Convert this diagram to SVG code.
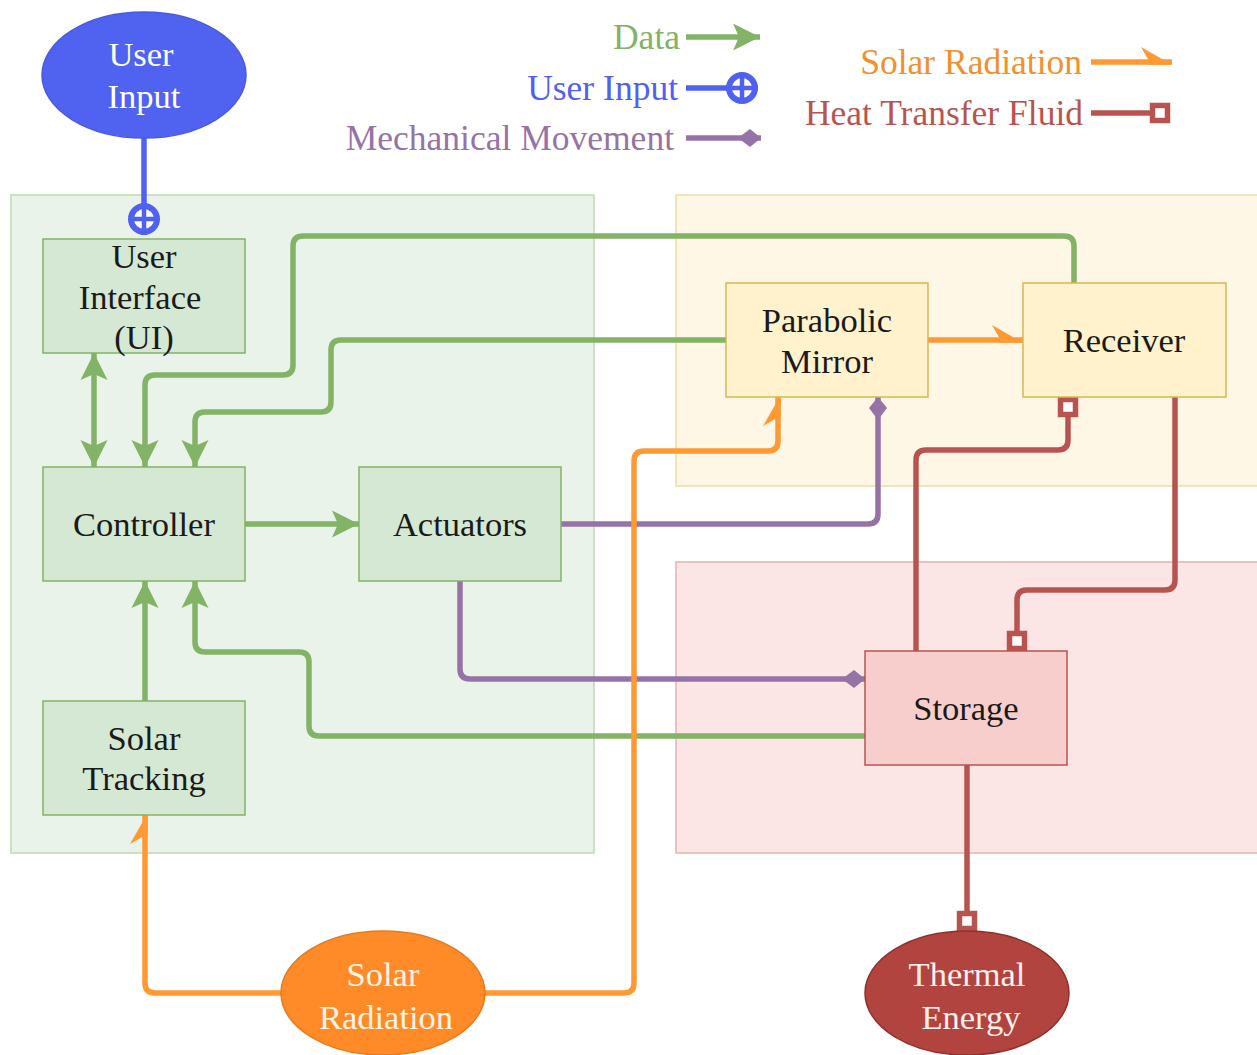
<svg xmlns="http://www.w3.org/2000/svg" width="1257" height="1055" viewBox="0 0 1257 1055">
  <defs>
    <style>
      text { font-family: "Liberation Serif", "Times New Roman", serif; font-size: 34.5px; text-anchor: middle; fill: #1a1a1a; }
      .lg { font-size: 35.5px; text-anchor: end; }
      .box-g { fill: #d5e8d4; stroke: #82b366; stroke-width: 1.5; }
      .box-y { fill: #fff2cc; stroke: #d6b656; stroke-width: 1.5; }
      .box-r { fill: #f8cecc; stroke: #b85450; stroke-width: 1.5; }
      .wire { fill: none; stroke-width: 5.5; stroke-linejoin: round; }
      .data { stroke: #82b366; marker-end: url(#arrowData); }
      .user { stroke: #5060f0; marker-end: url(#circlePlus); }
      .mech { stroke: #9673a6; marker-end: url(#diamond); }
      .sun { stroke: #ff9933; marker-end: url(#halfArrow); }
      .htf { stroke: #b85450; }
    </style>
    <marker id="arrowData" markerUnits="userSpaceOnUse" viewBox="-28 -14 28 28" refX="0" refY="0" markerWidth="28" markerHeight="28" orient="auto-start-reverse" overflow="visible">
      <path d="M0,0 L-27,-13.5 L-21,0 L-27,13.5 Z" fill="#82b366"/>
    </marker>
    <marker id="circlePlus" markerUnits="userSpaceOnUse" viewBox="-34 -18 36 36" refX="0" refY="0" markerWidth="36" markerHeight="36" orient="auto" overflow="visible">
      <circle cx="-16" cy="0" r="13" fill="#ffffff" stroke="#5060f0" stroke-width="6"/>
      <path d="M-29,0 H-3 M-16,-13 V13" stroke="#5060f0" stroke-width="4.5"/>
    </marker>
    <marker id="diamond" markerUnits="userSpaceOnUse" viewBox="-24 -10 26 20" refX="0" refY="0" markerWidth="26" markerHeight="20" orient="auto" overflow="visible">
      <path d="M0,0 L-11,-9 L-23,0 L-11,9 Z" fill="#9673a6"/>
    </marker>
    <marker id="halfArrow" markerUnits="userSpaceOnUse" viewBox="-34 -18 36 24" refX="0" refY="0" markerWidth="36" markerHeight="24" orient="auto" overflow="visible">
      <path d="M0,2.75 L-31,-15 L-24,-2.75 L-24,2.75 Z" fill="#ff9933"/>
    </marker>
    <marker id="square" markerUnits="userSpaceOnUse" viewBox="-22 -12 24 24" refX="0" refY="0" markerWidth="24" markerHeight="24" orient="auto-start-reverse" overflow="visible">
      <rect x="-17.5" y="-7.5" width="15" height="15" fill="#ffffff" stroke="#b85450" stroke-width="5.5"/>
    </marker>
  </defs>

  <!-- background -->
  <rect x="0" y="0" width="1257" height="1055" fill="#ffffff"/>

  <!-- zones -->
  <g id="zone-control">
    <rect x="11" y="195" width="583" height="658" fill="#eaf3e9" stroke="#c0d9b2" stroke-width="1.5"/>
  </g>
  <g id="zone-collector">
    <rect x="676" y="195" width="590" height="291" fill="#fff7e5" stroke="#eedca4" stroke-width="1.5"/>
  </g>
  <g id="zone-storage">
    <rect x="676" y="562" width="590" height="291" fill="#fbe6e5" stroke="#e2b3b1" stroke-width="1.5"/>
  </g>

  <!-- legend -->
  <g id="legend">
    <text class="lg" x="680" y="49" style="fill:#82b366">Data</text>
    <path class="wire data" d="M686,37 H760"/>
    <text class="lg" x="678" y="100" style="fill:#5060f0">User Input</text>
    <path class="wire user" d="M686,88 H758"/>
    <text class="lg" x="674" y="150" style="fill:#9673a6">Mechanical Movement</text>
    <path class="wire mech" d="M686,138 H761"/>
    <text class="lg" x="1082" y="74" style="fill:#f0902e">Solar Radiation</text>
    <path class="wire sun" d="M1091,62 H1172"/>
    <text class="lg" x="1083" y="125" style="fill:#b85450">Heat Transfer Fluid</text>
    <path class="wire htf" d="M1091,113 H1170" marker-end="url(#square)"/>
  </g>

  <!-- connectors -->
  <g id="connectors">
    <!-- data links -->
    <path class="wire data" d="M1074,283 V246 Q1074,236 1064,236 H303 Q293,236 293,246 V365 Q293,375 283,375 H155 Q145,375 145,385 V467"/>
    <path class="wire data" d="M726,340 H341 Q331,340 331,350 V402 Q331,412 321,412 H205 Q195,412 195,422 V467"/>
    <path class="wire data" d="M94,353 V467" marker-start="url(#arrowData)"/>
    <path class="wire data" d="M245,524 H359"/>
    <path class="wire data" d="M145,701 V581"/>
    <path class="wire data" d="M865,736 H319 Q309,736 309,726 V662 Q309,652 299,652 H205 Q195,652 195,642 V581"/>
    <!-- user input -->
    <path class="wire user" d="M144,138 V235"/>
    <!-- mechanical movement -->
    <path class="wire mech" d="M561,524 H868 Q878,524 878,514 V397"/>
    <path class="wire mech" d="M460,581 V669 Q460,679 470,679 H865"/>
    <!-- solar radiation -->
    <path class="wire sun" d="M281,993 H155 Q145,993 145,983 V813"/>
    <path class="wire sun" d="M485,993 H624 Q634,993 634,983 V461 Q634,451 644,451 H768 Q778,451 778,441 V395"/>
    <path class="wire sun" d="M928,340 H1023"/>
    <!-- heat transfer fluid -->
    <path class="wire htf" d="M1068,397 V440 Q1068,450 1058,450 H926 Q916,450 916,460 V651" marker-start="url(#square)"/>
    <path class="wire htf" d="M1175,397 V580 Q1175,590 1165,590 H1027 Q1017,590 1017,600 V651" marker-end="url(#square)"/>
    <path class="wire htf" d="M967,765 V931" marker-end="url(#square)"/>
  </g>

  <!-- nodes -->
  <g id="user-input">
    <ellipse cx="144" cy="75" rx="102" ry="63" fill="#5063f0" stroke="#4a5ae0" stroke-width="1.5"/>
    <text x="141" y="66" style="fill:#ffffff">User</text>
    <text x="144" y="108" style="fill:#ffffff">Input</text>
  </g>
  <g id="user-interface">
    <rect class="box-g" x="43" y="239" width="202" height="114"/>
    <text x="144" y="268">User</text>
    <text x="140" y="309">Interface</text>
    <text x="144" y="349">(UI)</text>
  </g>
  <g id="controller">
    <rect class="box-g" x="43" y="467" width="202" height="114"/>
    <text x="144" y="536">Controller</text>
  </g>
  <g id="actuators">
    <rect class="box-g" x="359" y="467" width="202" height="114"/>
    <text x="460" y="536">Actuators</text>
  </g>
  <g id="solar-tracking">
    <rect class="box-g" x="43" y="701" width="202" height="114"/>
    <text x="144" y="750">Solar</text>
    <text x="144" y="790">Tracking</text>
  </g>
  <g id="parabolic-mirror">
    <rect class="box-y" x="726" y="283" width="202" height="114"/>
    <text x="827" y="332">Parabolic</text>
    <text x="827" y="373">Mirror</text>
  </g>
  <g id="receiver">
    <rect class="box-y" x="1023" y="283" width="203" height="114"/>
    <text x="1124" y="352">Receiver</text>
  </g>
  <g id="storage">
    <rect class="box-r" x="865" y="651" width="202" height="114"/>
    <text x="966" y="720">Storage</text>
  </g>
  <g id="solar-radiation">
    <ellipse cx="383" cy="993" rx="102" ry="62" fill="#ff8a28" stroke="#e57a1e" stroke-width="1.5"/>
    <text x="383" y="986" style="fill:#fff4e6">Solar</text>
    <text x="386" y="1029" style="fill:#fff4e6">Radiation</text>
  </g>
  <g id="thermal-energy">
    <ellipse cx="967" cy="993" rx="102" ry="62" fill="#b2443f" stroke="#8e302c" stroke-width="1.5"/>
    <text x="967" y="986" style="fill:#fff0ee">Thermal</text>
    <text x="971" y="1029" style="fill:#fff0ee">Energy</text>
  </g>
</svg>
